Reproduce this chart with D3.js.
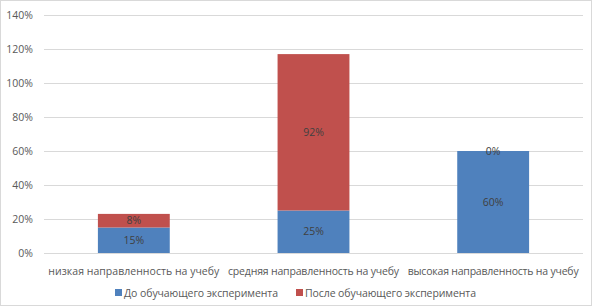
<!DOCTYPE html>
<html>
<head>
<meta charset="utf-8">
<script src="https://cdn.jsdelivr.net/npm/d3@7"></script>
<style>
  body { margin: 0; background: #fff; }
  text { font-family: "Open Sans", "Liberation Sans", sans-serif; }
</style>
</head>
<body>
<svg id="chart" width="592" height="306"></svg>
<script>
var categories = ['низкая направленность на учебу', 'средняя направленность на учебу', 'высокая направленность на учебу'];
var seriesNames = ['До обучающего эксперимента', 'После обучающего эксперимента'];
var before = [15, 25, 60];
var after = [8, 92, 0];
var yTicks = [0, 20, 40, 60, 80, 100, 120, 140];
var colors = ['#4f81bd', '#c0504d'];

var svg = d3.select('#chart');
var margin = {top: 15, right: 9, bottom: 53, left: 44};
var width = 592 - margin.left - margin.right,
    height = 306 - margin.top - margin.bottom;

// outer border
svg.append('rect')
    .attr('x', 0.5).attr('y', 0.5)
    .attr('width', 591).attr('height', 305)
    .attr('fill', 'none')
    .attr('stroke', '#d9d9d9');

var g = svg.append('g').attr('transform', 'translate(' + margin.left + ',' + margin.top + ')');

var xScale = d3.scaleBand().domain(categories).range([0, width]).paddingInner(0.6).paddingOuter(0.3);
var yScale = d3.scaleLinear().domain([0, 140]).range([height, 0]);

// gridlines
g.selectAll('.grid')
    .data(yTicks)
    .enter().append('line')
    .attr('x1', 0).attr('x2', width)
    .attr('y1', function(d) { return Math.round(yScale(d)) + 0.5; })
    .attr('y2', function(d) { return Math.round(yScale(d)) + 0.5; })
    .attr('stroke', '#d9d9d9');

// y tick labels
g.selectAll('.ytick')
    .data(yTicks)
    .enter().append('text')
    .attr('x', -11)
    .attr('y', function(d) { return yScale(d); })
    .attr('dy', '0.35em')
    .attr('text-anchor', 'end')
    .attr('font-size', 10.5)
    .attr('fill', '#595959')
    .text(function(d) { return d + '%'; });

// stack the data
var rows = categories.map(function(c, i) { return {cat: c, s0: before[i], s1: after[i]}; });
var stacked = d3.stack().keys(['s0', 's1'])(rows);

var layers = g.selectAll('.layer')
    .data(stacked)
    .enter().append('g')
    .attr('fill', function(d, i) { return colors[i]; });

layers.selectAll('rect')
    .data(function(d) { return d; })
    .enter().append('rect')
    .attr('x', function(d) { return xScale(d.data.cat); })
    .attr('width', xScale.bandwidth())
    .attr('y', function(d) { return yScale(d[1]); })
    .attr('height', function(d) { return yScale(d[0]) - yScale(d[1]); });

// data labels
layers.selectAll('.lbl')
    .data(function(d) { return d; })
    .enter().append('text')
    .attr('x', function(d) { return xScale(d.data.cat) + xScale.bandwidth() / 2; })
    .attr('y', function(d) { return (yScale(d[0]) + yScale(d[1])) / 2; })
    .attr('dy', '0.35em')
    .attr('text-anchor', 'middle')
    .attr('font-size', 10.5)
    .attr('fill', '#404040')
    .text(function(d) { return (d[1] - d[0]) + '%'; });

// category labels
g.selectAll('.xlbl')
    .data(categories)
    .enter().append('text')
    .attr('x', function(d) { return xScale(d) + xScale.bandwidth() / 2; })
    .attr('y', height + 22)
    .attr('text-anchor', 'middle')
    .attr('font-size', 10.5)
    .attr('fill', '#595959')
    .attr('textLength', 171)
    .attr('lengthAdjust', 'spacing')
    .text(function(d) { return d; });

// legend
var legendX = [115, 296];
var legendW = [154, 171];
var legend = svg.selectAll('.legend')
    .data(seriesNames)
    .enter().append('g')
    .attr('transform', function(d, i) { return 'translate(' + legendX[i] + ',293)'; });

legend.append('rect')
    .attr('x', 0).attr('y', -4)
    .attr('width', 7).attr('height', 7)
    .attr('fill', function(d, i) { return colors[i]; });

legend.append('text')
    .attr('x', 9)
    .attr('y', 0)
    .attr('dy', '0.35em')
    .attr('font-size', 10.5)
    .attr('fill', '#595959')
    .attr('textLength', function(d, i) { return legendW[i]; })
    .attr('lengthAdjust', 'spacing')
    .text(function(d) { return d; });
</script>
</body>
</html>
